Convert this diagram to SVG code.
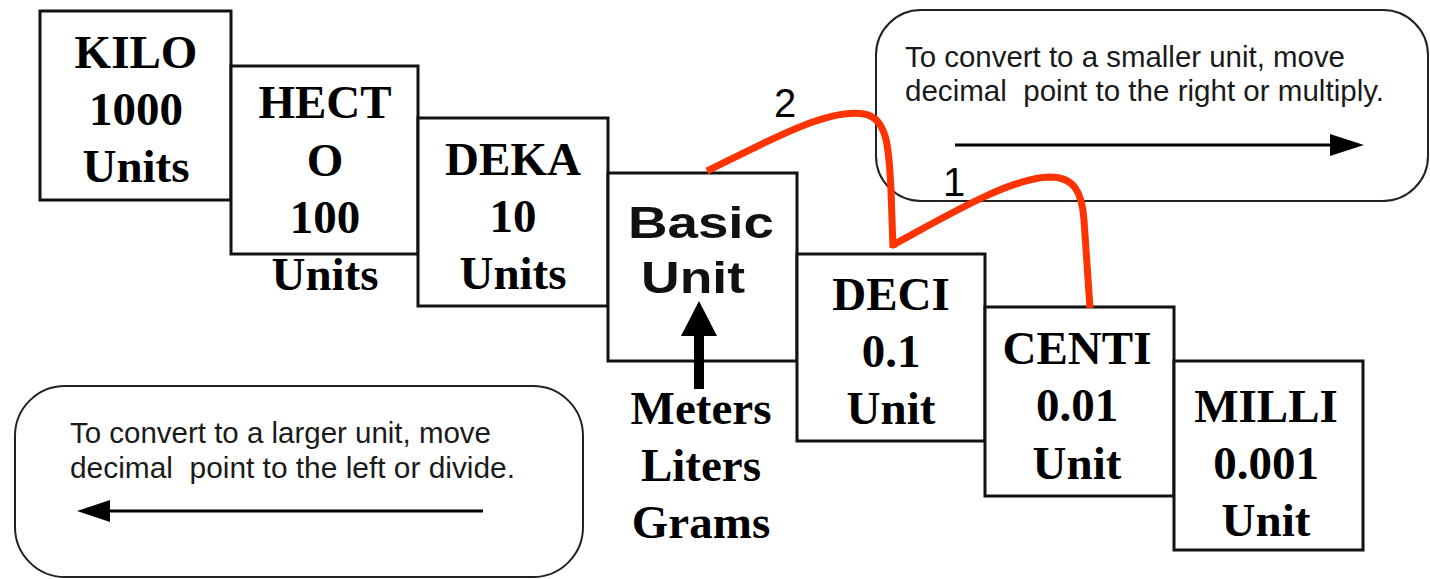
<svg xmlns="http://www.w3.org/2000/svg" width="1430" height="579" viewBox="0 0 1430 579">
<style>
.box{fill:#fff;stroke:#111;stroke-width:3}
.rbox{fill:#fff;stroke:#222;stroke-width:2}
.t{font-family:"Liberation Serif","Times New Roman",serif;font-weight:bold;font-size:47px;fill:#000;text-anchor:middle}
.s{font-family:"Liberation Sans",Arial,sans-serif;font-weight:bold;font-size:44px;fill:#111;text-anchor:middle}
.n{font-family:"Liberation Sans",Arial,sans-serif;font-size:29px;fill:#1a1a1a;white-space:pre}
.d{font-family:"Liberation Sans",Arial,sans-serif;font-size:40px;fill:#000;text-anchor:middle}
.red{fill:none;stroke:#ff3300;stroke-width:7;stroke-linecap:butt;stroke-linejoin:miter}
.ln{stroke:#000;stroke-width:3;fill:none}
</style>
<defs>
<marker id="ah" markerWidth="12" markerHeight="8" refX="11" refY="4" orient="auto" markerUnits="userSpaceOnUse" viewBox="0 0 12 8">
<path d="M0,0 L12,4 L0,8 z" fill="#000"/>
</marker>
</defs>

<g id="note-smaller">
<rect class="rbox" x="876" y="10" width="552" height="191" rx="45" ry="45"/>
<text class="n" x="905" y="67" textLength="440" lengthAdjust="spacingAndGlyphs">To convert to a smaller unit, move</text>
<text class="n" x="905" y="101" textLength="479" lengthAdjust="spacingAndGlyphs">decimal  point to the right or multiply.</text>
</g>
<g id="note-larger">
<rect class="rbox" x="15" y="386" width="568" height="191" rx="50" ry="50"/>
<text class="n" x="70" y="443" textLength="421" lengthAdjust="spacingAndGlyphs">To convert to a larger unit, move</text>
<text class="n" x="70" y="478" textLength="445" lengthAdjust="spacingAndGlyphs">decimal  point to the left or divide.</text>
</g>

<g id="kilo">
<rect class="box" x="40" y="11" width="191" height="189"/>
<text class="t" x="136" y="68">KILO</text>
<text class="t" x="136" y="125">1000</text>
<text class="t" x="136" y="182">Units</text>
</g>
<g id="hecto">
<rect class="box" x="231" y="66" width="187" height="188"/>
<text class="t" x="325" y="118">HECT</text>
<text class="t" x="325" y="176">O</text>
<text class="t" x="325" y="233">100</text>
<text class="t" x="325" y="290">Units</text>
</g>
<g id="deka">
<rect class="box" x="418" y="118" width="190" height="188"/>
<text class="t" x="513" y="175">DEKA</text>
<text class="t" x="513" y="232">10</text>
<text class="t" x="513" y="289">Units</text>
</g>
<g id="basic">
<rect class="box" x="608" y="173" width="189" height="188"/>
<text class="s" x="701" y="238" textLength="146" lengthAdjust="spacingAndGlyphs">Basic</text>
<text class="s" x="693" y="293" textLength="104" lengthAdjust="spacingAndGlyphs">Unit</text>
</g>
<g id="deci">
<rect class="box" x="797" y="254" width="188" height="187"/>
<text class="t" x="891" y="310">DECI</text>
<text class="t" x="891" y="367">0.1</text>
<text class="t" x="891" y="424">Unit</text>
</g>
<g id="centi">
<rect class="box" x="985" y="307" width="189" height="189"/>
<text class="t" x="1077" y="364">CENTI</text>
<text class="t" x="1077" y="421">0.01</text>
<text class="t" x="1077" y="479">Unit</text>
</g>
<g id="milli">
<rect class="box" x="1174" y="361" width="189" height="189"/>
<text class="t" x="1266" y="422">MILLI</text>
<text class="t" x="1266" y="479">0.001</text>
<text class="t" x="1266" y="536">Unit</text>
</g>
<g id="base-units">
<text class="t" x="701" y="424">Meters</text>
<text class="t" x="701" y="481">Liters</text>
<text class="t" x="701" y="538">Grams</text>
</g>

<g id="connectors">
<line class="ln" x1="955" y1="145" x2="1333" y2="145"/>
<path d="M1330,134 L1364,145 L1330,156 z" fill="#000"/>
<line class="ln" x1="483" y1="511" x2="108" y2="511"/>
<path d="M110,500 L77,511 L110,522 z" fill="#000"/>
<rect x="694" y="333" width="10" height="56" fill="#000"/>
<path d="M699,301 L717,336 L681,336 z" fill="#000"/>
<path class="red" d="M707,171 C770,140 828,108 864,114 C888,118 889,150 891,190 L893,248"/>
<path class="red" d="M891,246 C950,214 1010,178 1050,177 C1074,177 1082,192 1084,220 L1090,308"/>
<text class="d" x="785" y="117">2</text>
<text class="d" x="954" y="196">1</text>
</g>
</svg>
